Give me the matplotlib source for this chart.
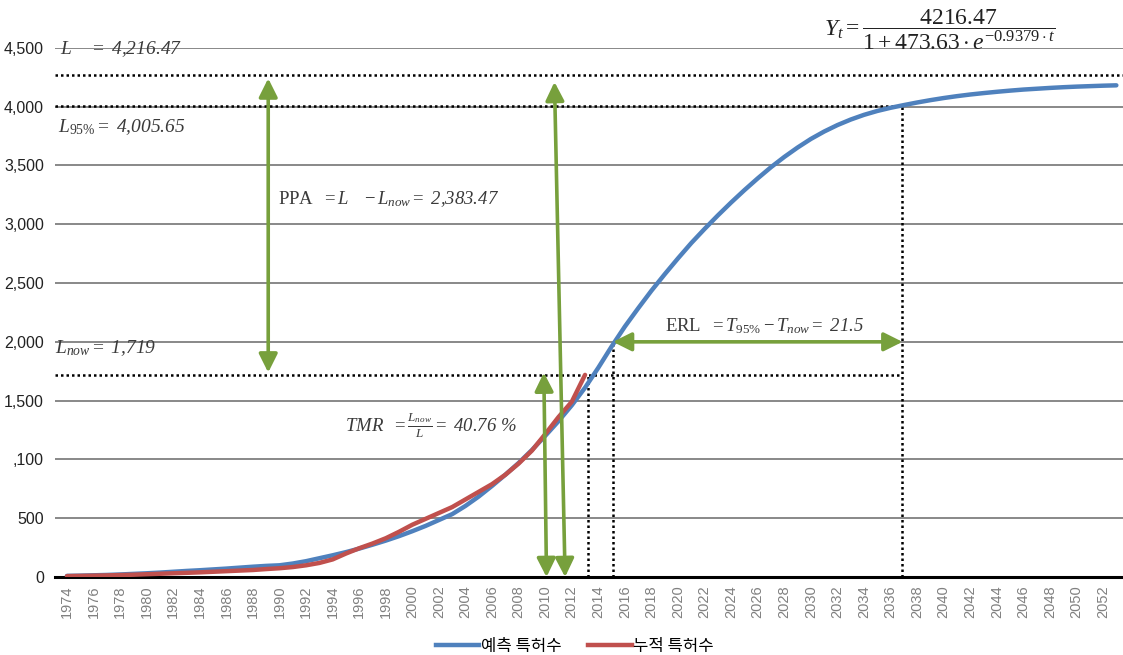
import numpy as np
import matplotlib.pyplot as plt
from matplotlib.lines import Line2D

plt.rcParams['font.family'] = ['Liberation Sans', 'Noto Sans CJK KR', 'DejaVu Sans']
# fórmulas em serifa
plt.rcParams['mathtext.fontset'] = 'custom'
plt.rcParams['mathtext.rm'] = 'Liberation Serif'
plt.rcParams['mathtext.it'] = 'Liberation Serif:italic'
plt.rcParams['mathtext.bf'] = 'Liberation Serif:bold'

# --- dados ---
anos_prev = np.arange(1974, 2054)
previsto = [10, 12, 15, 18, 22, 27, 32, 38, 45, 52,
            58, 65, 72, 80, 88, 95, 100, 115, 135, 160,
            185, 212, 242, 275, 310, 348, 390, 435, 485, 535,
            605, 685, 775, 870, 970, 1080, 1200, 1325, 1460, 1610,
            1780, 1960, 2130, 2285, 2435, 2575, 2710, 2840, 2960, 3075,
            3185, 3290, 3390, 3485, 3572, 3652, 3725, 3788, 3843, 3890,
            3930, 3963, 3990, 4013, 4035, 4055, 4073, 4089, 4103, 4115,
            4126, 4136, 4145, 4152, 4159, 4165, 4170, 4174, 4178, 4181]

anos_real = np.arange(1974, 2014)
acumulado = [8, 10, 12, 14, 17, 20, 24, 28, 32, 36,
             40, 45, 50, 55, 60, 68, 75, 85, 100, 120,
             150, 200, 245, 285, 330, 385, 445, 495, 545, 595,
             660, 725, 790, 870, 965, 1075, 1215, 1360, 1490, 1719]

rotulos_y = ['0', '500', ',100', '1,500', '2,000', '2,500', '3,000', '3,500', '4,000', '4,500']
valores_y = np.arange(0, 5000, 500)
anos_rotulo = np.arange(1974, 2054, 2)

# níveis e tempos de referência (posições como aparecem no desenho)
nivel_L = 4270
nivel_L95 = 4005
nivel_Lnow = 1719
nivel_erl = 2000
t_now = 2013.2
t_erl0 = 2015.1
t_95 = 2036.9

azul = '#4F81BD'
vermelho = '#C0504D'
verde = '#77A03C'
cinza_txt = '#3a3a3a'

fig = plt.figure(figsize=(11.23, 6.55), dpi=100)
ax = fig.add_axes([0.049, 0.119, 0.951, 0.808])
ax.set_xlim(1973.1, 2053.5)
ax.set_ylim(0, 4500)

# grade horizontal
for v in valores_y[1:]:
    ax.axhline(v, color='#7f7f7f', lw=1.3, zorder=1)

for s in ['top', 'right', 'left']:
    ax.spines[s].set_visible(False)
ax.spines['bottom'].set_color('black')
ax.spines['bottom'].set_linewidth(2.2)
ax.spines['bottom'].set_zorder(2)

ax.set_yticks(valores_y)
ax.set_yticklabels(rotulos_y, fontsize=11.5, color='#222222')
ax.set_xticks(anos_rotulo)
ax.set_xticklabels([str(a) for a in anos_rotulo], rotation=90, fontsize=10.5, color='#808080')
ax.tick_params(length=0, axis='both')
ax.tick_params(axis='y', pad=8)
ax.tick_params(axis='x', pad=6)

# linhas pontilhadas de referência
pont = dict(color='black', lw=1.8, ls=(0, (1, 1.2)), zorder=3)
ax.plot([1973.1, 2053.5], [nivel_L, nivel_L], **pont)
ax.plot([1973.1, t_95], [nivel_L95, nivel_L95], **pont)
ax.plot([1973.1, t_95], [nivel_Lnow, nivel_Lnow], **pont)
ax.plot([t_now, t_now], [0, nivel_Lnow], **pont)
ax.plot([t_erl0, t_erl0], [0, nivel_erl], **pont)
ax.plot([t_95, t_95], [0, nivel_L95], **pont)

# curvas
ax.plot(anos_prev, previsto, color=azul, lw=3.2, zorder=4, solid_capstyle='round')
ax.plot(anos_real, acumulado, color=vermelho, lw=3.2, zorder=5, solid_capstyle='round')

# setas verdes
seta = dict(arrowstyle='<|-|>,head_length=0.7,head_width=0.35', color=verde,
            lw=2.6, shrinkA=0, shrinkB=0, mutation_scale=16)
ax.annotate('', xy=(1989.15, nivel_L - 30), xytext=(1989.15, nivel_Lnow + 20), arrowprops=seta, zorder=6)
ax.annotate('', xy=(2009.9, nivel_Lnow + 20), xytext=(2010.1, 0), arrowprops=seta, zorder=6)
ax.annotate('', xy=(2010.7, 4210), xytext=(2011.5, 0), arrowprops=seta, zorder=6)
ax.annotate('', xy=(t_erl0, nivel_erl), xytext=(t_95, nivel_erl), arrowprops=seta, zorder=6)

# textos: parte matemática em mathtext, números em serifa itálica
kw = dict(color=cinza_txt, va='center', ha='left', zorder=7,
          family='Liberation Serif', style='italic')
ax.text(1973.5, 4490, r'$L\quad\ =$ 4,216.47', fontsize=14, **kw)
ax.text(1973.3, 3830, r'$L_{95\%} =$ 4,005.65', fontsize=14, **kw)
ax.text(1973.1, 1950, r'$L_{now} =$ 1,719', fontsize=14, **kw)
ax.text(1989.9, 3210, r'$\mathrm{PPA}\ \ = L\quad - L_{now} =$ 2,383.47', fontsize=13.5, **kw)
ax.text(1994.9, 1290, r'$TMR\ \ = \frac{L_{now}}{L} =$ 40.76 %', fontsize=13.5, **kw)
ax.text(2019.0, 2130, r'$\mathrm{ERL}\ \ = T_{95\%} - T_{now} =$ 21.5', fontsize=13.5, **kw)

fig.text(0.837, 0.955, r'$Y_t = \dfrac{4216.47}{1 + 473.63 \cdot e^{-0.9379 \cdot t}}$',
         fontsize=17, color='#222222', ha='center', va='center')

# legenda
handles = [Line2D([0], [0], color=azul, lw=3.2), Line2D([0], [0], color=vermelho, lw=3.2)]
fig.legend(handles, ['예측 특허수', '누적 특허수'], loc='center', bbox_to_anchor=(0.512, 0.013),
           ncol=2, frameon=False, handlelength=2.6, handletextpad=0.1,
           columnspacing=1.6, prop={'family': ['Noto Sans CJK KR', 'DejaVu Sans'], 'size': 12})

fig.savefig('out.png', dpi=100)
